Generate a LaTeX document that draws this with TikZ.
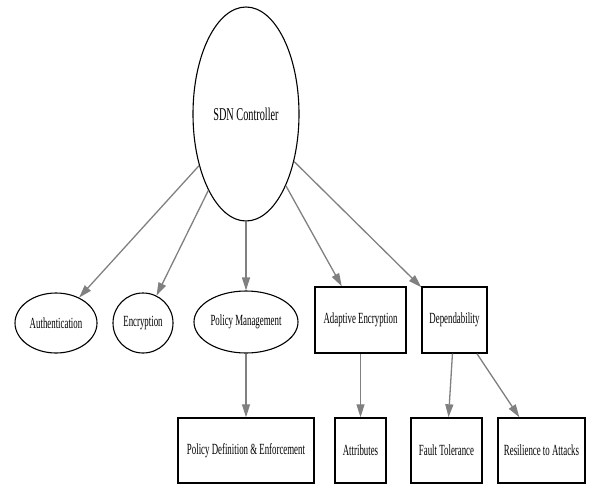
\documentclass[tikz,border=0pt]{standalone}
\usepackage{fontspec}
\setmainfont{Liberation Serif}[FakeStretch=0.57]
\usetikzlibrary{arrows.meta, shapes.geometric, positioning}

\begin{document}
\begin{tikzpicture}[x=1pt, y=-1pt,
  every node/.style={font=\fontsize{15.5}{18}\selectfont, inner sep=0pt},
  oval/.style={draw, ellipse, line width=1.1pt},
  box/.style={draw, rectangle, line width=1.4pt},
  link/.style={draw=black!50, line width=1.3pt, -{Triangle[length=13pt, width=8pt]}}]

\useasboundingbox (0,0) rectangle (589,485);

\node [oval, minimum width=106pt, minimum height=214pt,
       font=\fontsize{18}{21}\selectfont] (sdn) at (246,114) {SDN Controller};

\node [oval, minimum width=82pt, minimum height=60pt]  (auth) at (56,323)  {Authentication};
\node [oval, minimum width=60pt, minimum height=60pt]  (enc)  at (143,323) {Encryption};
\node [oval, minimum width=104pt, minimum height=62pt] (pm)   at (246,322) {Policy Management};

\node [box, minimum width=91pt, minimum height=66pt] (ae)  at (360.5,320) {Adaptive Encryption};
\node [box, minimum width=65pt, minimum height=66pt] (dep) at (454.5,320) {Dependability};

\node [box, minimum width=136pt, minimum height=65pt] (pde)  at (246,450.5)   {Policy Definition \& Enforcement};
\node [box, minimum width=51pt, minimum height=65pt]  (attr) at (360.5,450.5) {Attributes};
\node [box, minimum width=71pt, minimum height=65pt]  (ft)   at (446.5,450.5) {Fault Tolerance};
\node [box, minimum width=87pt, minimum height=65pt]  (res)  at (541.5,450.5) {Resilience to Attacks};

% edges
\foreach \a/\b in {sdn/auth, sdn/enc, sdn/pm, sdn/ae, sdn/dep,
                   pm/pde, ae/attr, dep/ft, dep/res}
  \draw [link] (\a) -- (\b);

\end{tikzpicture}
\end{document}
